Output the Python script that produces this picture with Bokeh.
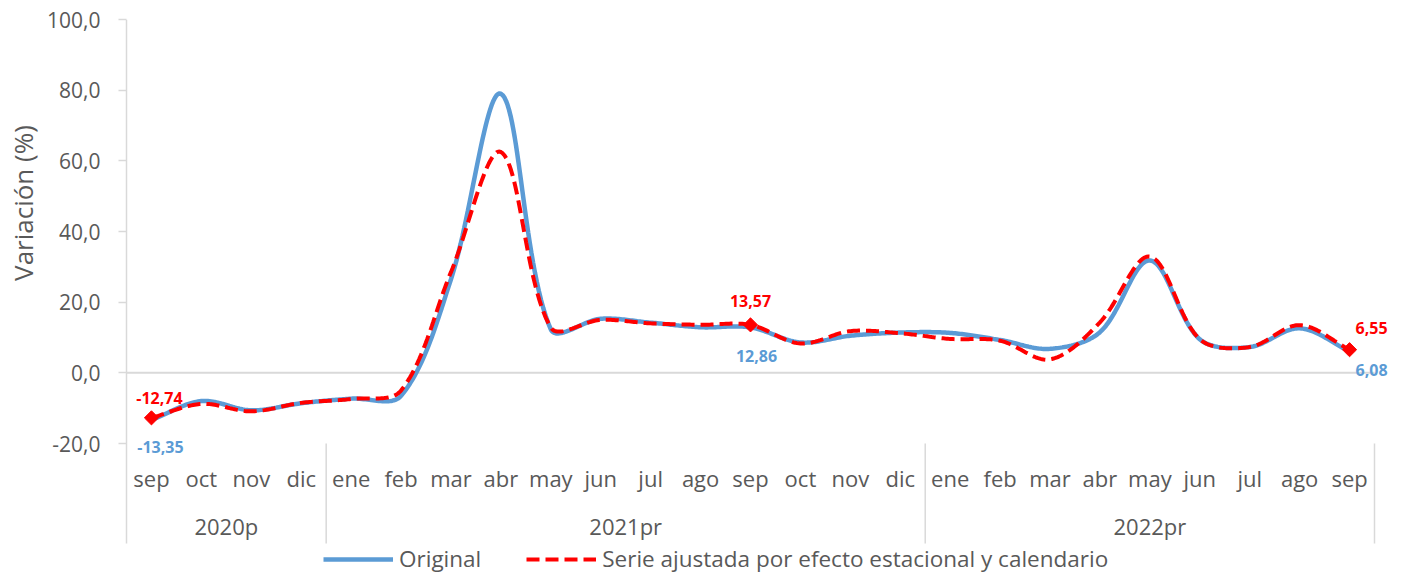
import math
from bokeh.plotting import figure
from bokeh.models import (Range1d, FixedTicker, LinearAxis, Legend, LegendItem,
                          LabelSet, ColumnDataSource)
from bokeh.core.properties import value
from bokeh.embed import file_html
from bokeh.resources import INLINE

# ---------------- data ----------------
months = ["sep", "oct", "nov", "dic",
          "ene", "feb", "mar", "abr", "may", "jun", "jul", "ago", "sep", "oct", "nov", "dic",
          "ene", "feb", "mar", "abr", "may", "jun", "jul", "ago", "sep"]
years = ["2020p", "2021pr", "2022pr"]
year_sizes = [4, 12, 9]

original = [-13.35, -8.0, -10.6, -8.6,
            -7.3, -6.5, 26.5, 79.0, 12.3, 15.3, 14.2, 12.9, 12.86, 8.6, 10.5, 11.4,
            11.3, 9.3, 6.8, 11.5, 31.8, 9.5, 7.3, 12.6, 6.08]
ajustada = [-12.74, -8.8, -10.9, -8.5,
            -7.4, -5.0, 28.5, 62.5, 12.8, 15.0, 14.0, 13.6, 13.57, 8.3, 11.8, 11.2,
            9.6, 9.1, 3.8, 14.3, 32.9, 9.5, 7.3, 13.5, 6.55]
labeled_idx = [0, 12, 24]

y_ticks = [-20, 0, 20, 40, 60, 80, 100]
y_tick_labels = ["-20,0", "0,0", "20,0", "40,0", "60,0", "80,0", "100,0"]
y_title = "Variación (%)"
legend_labels = ["Original", "Serie ajustada por efecto estacional y calendario"]

FONT = "Open Sans"
TXT = "#595959"
GRID = "#D9D9D9"
BLUE = "#5B9BD5"
RED = "#FF0000"

# ---------------- layout (pixels) ----------------
W, H = 1406, 576
AXIS_PX = 126            # pixel column of the value axis line
LEFT, RIGHT, TOP = 124, 1400, 19
PX_X = 1248 / 25         # pixels per category
PX_Y = 424 / 120         # pixels per value unit
X0 = -0.5 - (AXIS_PX - LEFT) / PX_X
X1 = -0.5 + (RIGHT - AXIS_PX) / PX_X
Y1 = 100
Y0 = Y1 - (H - TOP) / PX_Y


def v_at(py):
    """value whose pixel row is py"""
    return Y1 - (py - TOP) / PX_Y


def smooth(xs, ys, n=30):
    """Excel-like smoothed line: cubic Bezier whose tangents are weighted by segment length."""
    m = len(xs)
    P = [(x * PX_X, y * PX_Y) for x, y in zip(xs, ys)]

    def dist(a, b):
        return math.hypot(a[0] - b[0], a[1] - b[1])

    c_out, c_in = [], []
    for i in range(m):
        pp = P[max(i - 1, 0)]
        pn = P[min(i + 1, m - 1)]
        dp = dist(P[i], pp)
        dn = dist(P[i], pn)
        tx, ty = pn[0] - pp[0], pn[1] - pp[1]
        s = dp + dn if dp + dn > 0 else 1
        c_out.append((P[i][0] + tx * dn / s / 3, P[i][1] + ty * dn / s / 3))
        c_in.append((P[i][0] - tx * dp / s / 3, P[i][1] - ty * dp / s / 3))
    ox, oy = [], []
    for i in range(m - 1):
        p1, c1, c2, p2 = P[i], c_out[i], c_in[i + 1], P[i + 1]
        steps = n + 1 if i == m - 2 else n
        for k in range(steps):
            t = k / n
            a = (1 - t) ** 3; b = 3 * (1 - t) ** 2 * t; c = 3 * (1 - t) * t ** 2; d = t ** 3
            ox.append((a * p1[0] + b * c1[0] + c * c2[0] + d * p2[0]) / PX_X)
            oy.append((a * p1[1] + b * c1[1] + c * c2[1] + d * p2[1]) / PX_Y)
    return ox, oy


xs = list(range(len(months)))

p = figure(width=W, height=H, output_backend="svg", toolbar_location=None,
           x_range=Range1d(X0, X1), y_range=Range1d(Y0, Y1),
           x_axis_location=None,
           min_border_left=LEFT, min_border_right=W - RIGHT,
           min_border_top=TOP, min_border_bottom=0)
p.grid.visible = False
p.outline_line_color = None
p.background_fill_color = "white"
p.border_fill_color = "white"

# value axis
ya = p.yaxis[0]
ya.ticker = FixedTicker(ticks=y_ticks, minor_ticks=[])
ya.major_label_overrides = {t: s for t, s in zip(y_ticks, y_tick_labels)}
ya.axis_line_color = None
ya.major_tick_line_color = GRID
ya.major_tick_line_width = 1.5
ya.major_tick_out = 6
ya.major_tick_in = 2
ya.minor_tick_line_color = None
ya.minor_tick_out = 0
ya.major_label_standoff = 18
ya.major_label_text_font = FONT
ya.major_label_text_font_size = "21px"
ya.major_label_text_color = TXT

# axis title as an outer axis carrying a single rotated label
title_pos = v_at(202.5)
tya = LinearAxis(ticker=FixedTicker(ticks=[title_pos], minor_ticks=[]),
                 major_label_overrides={title_pos: y_title},
                 major_label_orientation="vertical")
tya.axis_line_color = None
tya.major_tick_line_color = None
tya.minor_tick_line_color = None
tya.major_tick_out = 0
tya.major_tick_in = 0
tya.minor_tick_out = 0
tya.major_label_standoff = 4
tya.major_label_text_font = FONT
tya.major_label_text_font_size = "26px"
tya.major_label_text_color = TXT
p.add_layout(tya, "left")

# category axis: zero line, group separators, month and year labels
bounds = [-0.5]
for s in year_sizes:
    bounds.append(bounds[-1] + s)
centers = [(bounds[i] + bounds[i + 1]) / 2 for i in range(len(years))]
sep_bottom = v_at(543)

p.segment(x0=[bounds[0]], y0=[0], x1=[bounds[-1]], y1=[0], line_color=GRID, line_width=2)
p.segment(x0=bounds, y0=[Y1] + [y_ticks[0]] * (len(bounds) - 1), x1=bounds,
          y1=[sep_bottom] * len(bounds), line_color=GRID, line_width=1.5)
p.text(x=xs, y=[v_at(477.5)] * len(xs), text=months, text_font=value(FONT), text_font_size="22px",
       text_color=TXT, text_align="center", text_baseline="alphabetic")
p.text(x=centers, y=[v_at(525.5)] * len(centers), text=years, text_font=value(FONT),
       text_font_size="22px", text_color=TXT, text_align="center", text_baseline="alphabetic")

# series
bx, by = smooth(xs, original)
rx, ry = smooth(xs, ajustada)
rb = p.line(bx, by, line_color=BLUE, line_width=4.5)
rr = p.line(rx, ry, line_color=RED, line_width=4, line_dash="13 6")
p.scatter([xs[i] for i in labeled_idx], [ajustada[i] for i in labeled_idx],
          marker="square", angle=math.pi / 4, size=10, color=RED)


def fmt(v):
    return f"{v:.2f}".replace(".", ",")


red_src = ColumnDataSource(dict(x=[xs[i] for i in labeled_idx], y=[ajustada[i] for i in labeled_idx],
                                t=[fmt(ajustada[i]) for i in labeled_idx],
                                dx=[8, 0, 22], dy=[20, 24, 22]))
blue_src = ColumnDataSource(dict(x=[xs[i] for i in labeled_idx], y=[original[i] for i in labeled_idx],
                                 t=[fmt(original[i]) for i in labeled_idx],
                                 dx=[9, 6, 22], dy=[-27, -29, -19]))
for src, col in ((red_src, RED), (blue_src, BLUE)):
    p.add_layout(LabelSet(x="x", y="y", text="t", source=src, x_offset="dx", y_offset="dy",
                          text_align="center", text_baseline="middle",
                          text_font=value(FONT), text_font_size="16px", text_font_style="bold",
                          text_color=col))

legend = Legend(items=[LegendItem(label=legend_labels[0], renderers=[rb]),
                       LegendItem(label=legend_labels[1], renderers=[rr])],
                orientation="horizontal", location=(323 - LEFT, 2),
                border_line_color=None, background_fill_alpha=0,
                padding=0, margin=0, spacing=45, glyph_width=70, glyph_height=20,
                label_standoff=6, label_text_font=FONT, label_text_font_size="22.5px",
                label_text_color=TXT)
p.add_layout(legend)

open("out.html", "w").write(file_html(p, INLINE))
